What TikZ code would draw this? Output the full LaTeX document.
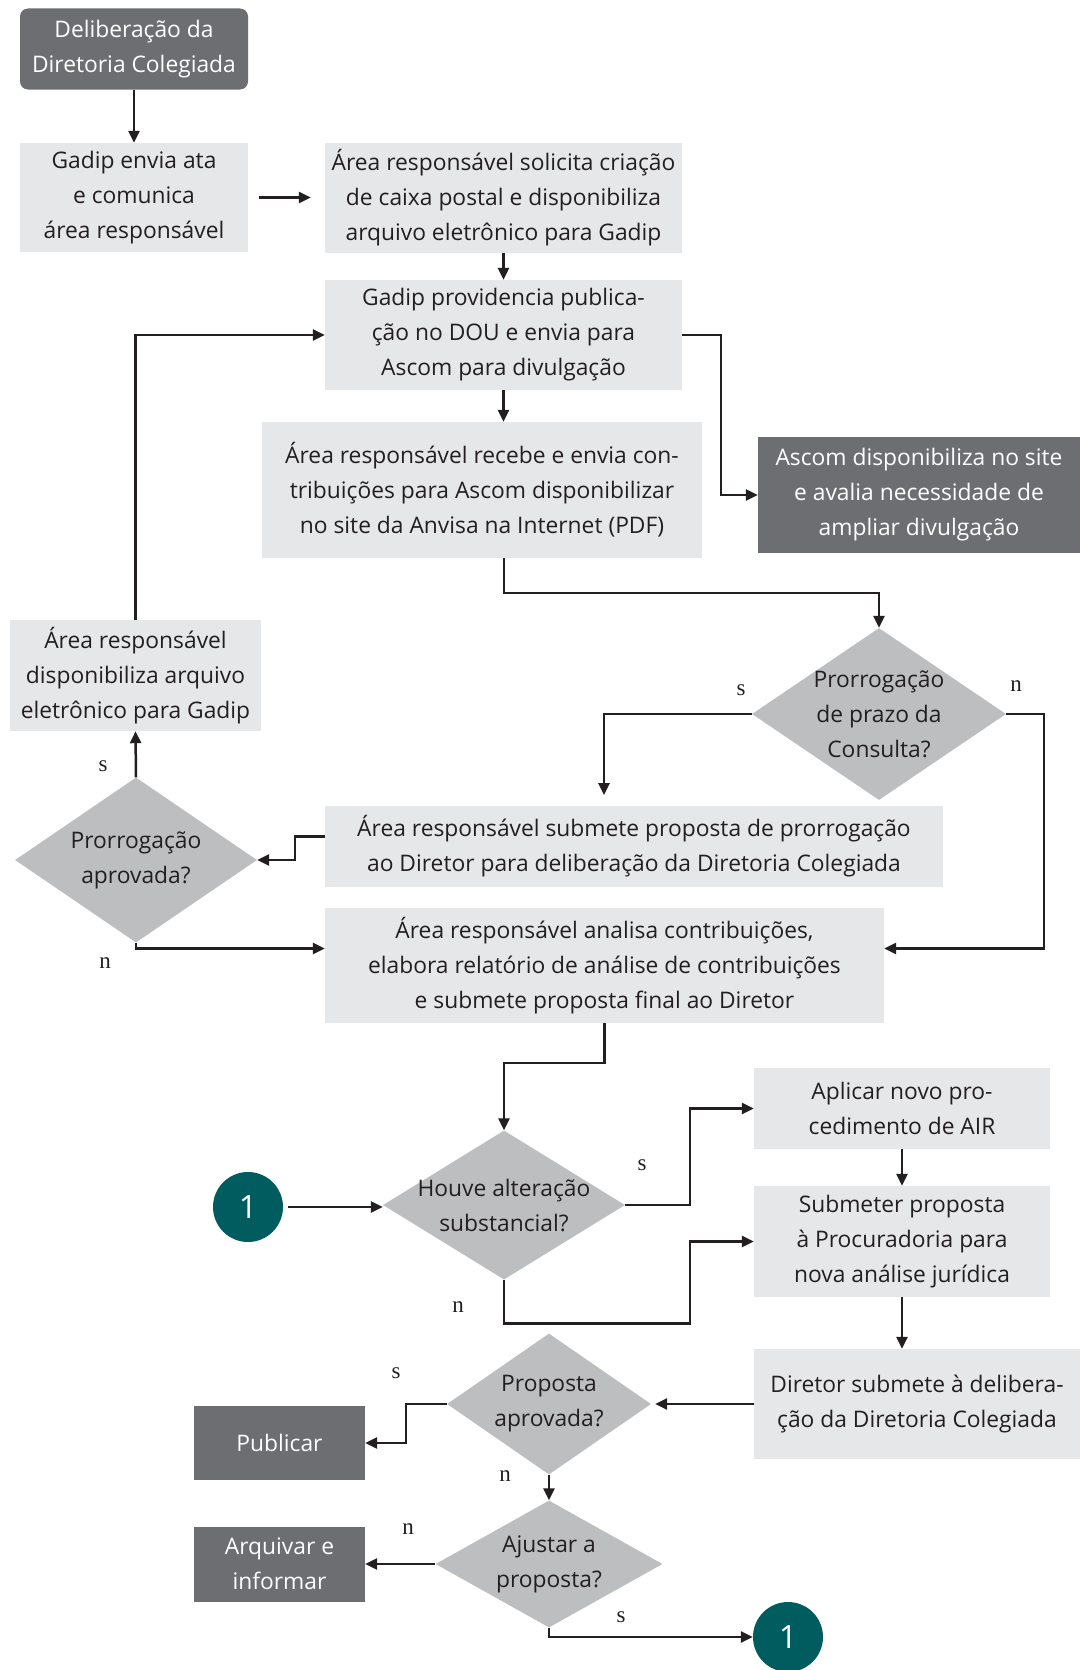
\documentclass[tikz,border=0pt]{standalone}
\usepackage{fontspec}
\setmainfont{Open Sans}
\newfontfamily\lettre{Liberation Serif}
\usetikzlibrary{shapes.geometric,arrows.meta,positioning}

\definecolor{cinzaescuro}{HTML}{6D6E71}
\definecolor{cinzaclaro}{HTML}{E6E7E8}
\definecolor{cinzamedio}{HTML}{BCBEC0}
\definecolor{verdeazul}{HTML}{005C5F}
\definecolor{texto}{HTML}{231F20}

\begin{document}
\begin{tikzpicture}[x=1pt, y=-1pt,
  font=\fontsize{22.8}{35}\selectfont,
  caixa/.style={rectangle, fill=cinzaclaro, text=texto, align=center, inner sep=0pt},
  escura/.style={rectangle, fill=cinzaescuro, text=white, align=center, inner sep=0pt},
  decisao/.style={diamond, fill=cinzamedio, text=texto, align=center, inner sep=-6pt},
  conector/.style={circle, fill=verdeazul, text=white, inner sep=0pt, minimum size=70pt,
    font=\fontsize{32}{32}\selectfont},
  seta/.style={line width=2.5pt, draw=texto, -{Triangle[length=12pt,width=11pt]}},
  sn/.style={font=\lettre\fontsize{23}{23}\selectfont, text=texto, inner sep=0pt},
]
\useasboundingbox (0,0) rectangle (1080,1670);

% Caixas
\node[escura, rounded corners=8pt, minimum width=228pt, minimum height=81pt] (delib) at (134,49)
  {Deliberação da\\Diretoria Colegiada};
\node[caixa, minimum width=228pt, minimum height=109pt] (gadip) at (134,197.5)
  {Gadip envia ata\\e comunica\\área responsável};
\node[caixa, minimum width=357pt, minimum height=110pt] (solicita) at (503.5,197.5)
  {Área responsável solicita criação\\de caixa postal e disponibiliza\\arquivo eletrônico para Gadip};
\node[caixa, minimum width=357pt, minimum height=110pt] (publica) at (503.5,335)
  {Gadip providencia publica-\\ção no DOU e envia para\\Ascom para divulgação};
\node[caixa, minimum width=440pt, minimum height=136pt] (recebe) at (482,490)
  {Área responsável recebe e envia con-\\tribuições para Ascom disponibilizar\\no site da Anvisa na Internet (PDF)};
\node[escura, minimum width=322pt, minimum height=116pt] (ascom) at (919,495)
  {Ascom disponibiliza no site\\e avalia necessidade de\\ampliar divulgação};
\node[caixa, minimum width=251pt, minimum height=111pt] (arquivo) at (135.5,675.5)
  {Área responsável\\disponibiliza arquivo\\eletrônico para Gadip};
\node[caixa, minimum width=618pt, minimum height=81pt] (submete) at (634,846.5)
  {Área responsável submete proposta de prorrogação\\ao Diretor para deliberação da Diretoria Colegiada};
\node[caixa, minimum width=559pt, minimum height=115pt] (analisa) at (604.5,965.5)
  {Área responsável analisa contribuições,\\elabora relatório de análise de contribuições\\e submete proposta final ao Diretor};
\node[caixa, minimum width=296pt, minimum height=81pt] (air) at (902,1108.5)
  {Aplicar novo pro-\\cedimento de AIR};
\node[caixa, minimum width=296pt, minimum height=111pt] (procuradoria) at (902,1241.5)
  {Submeter proposta\\à Procuradoria para\\nova análise jurídica};
\node[caixa, minimum width=326pt, minimum height=110pt] (diretor) at (917,1404)
  {Diretor submete à delibera-\\ção da Diretoria Colegiada};
\node[escura, minimum width=171pt, minimum height=74pt] (publicar) at (279.5,1443)
  {Publicar};
\node[escura, minimum width=171pt, minimum height=75pt] (arquivar) at (279.5,1564)
  {Arquivar e\\informar};

% Decisoes
\node[decisao, aspect=1.48, minimum width=254pt, minimum height=172pt] (prazo) at (879,714)
  {Prorrogação\\de prazo da\\Consulta?};
\node[decisao, aspect=1.47, minimum width=242pt, minimum height=165pt] (aprovada) at (136,860)
  {Prorrogação\\aprovada?};
\node[decisao, aspect=1.62, minimum width=242pt, minimum height=149pt] (houve) at (504,1205)
  {Houve alteração\\substancial?};
\node[decisao, aspect=1.45, minimum width=204pt, minimum height=141pt] (proposta) at (549,1404)
  {Proposta\\aprovada?};
\node[decisao, aspect=1.79, minimum width=227pt, minimum height=127pt] (ajustar) at (549,1564)
  {Ajustar a\\proposta?};

% Conectores de pagina
\node[conector] (um) at (248,1207) {1};
\node[conector] (dois) at (788,1637) {1};

% Setas
\draw[seta] (delib) -- (gadip);
\draw[seta, shorten <=11pt, shorten >=14pt] (gadip.east) -- (gadip.east -| solicita.west);
\draw[seta] (solicita) -- (publica);
\draw[seta] (publica.south) -- (publica.south |- recebe.north);
\draw[seta] (publica.east) -- ++(39,0) |- (ascom.west);
\draw[seta] ([xshift=22pt]recebe.south) -- ++(0,35) -| (prazo.north);
\coordinate (prorrog) at (604,795);
\draw[seta] (prazo.west) -| (prorrog);
\draw[seta] (prazo.east) -- ++(38,0) |- ([yshift=17pt]analisa.east);
\draw[seta] ([yshift=10pt]submete.west) -- ++(-30,0) |- (aprovada.east);
\draw[seta] (aprovada.north) -- (arquivo.south);
\draw[seta] (aprovada.south) |- ([yshift=17pt]analisa.west);
\draw[seta] (arquivo.north) |- (publica.west);
\draw[seta] (analisa.south) -- ++(0,40) -| (houve.north);
\draw[seta, shorten <=5pt] (um.east) -- (um.east -| houve.west);
\draw[seta] (houve.east) -- ++(65,0) |- (air.west);
\draw[seta] (houve.south) -- ++(0,44) -- ++(186,0) |- (procuradoria.west);
\draw[seta] (air) -- (procuradoria);
\draw[seta] (procuradoria.south) -- (procuradoria.south |- diretor.north);
\draw[seta, shorten >=4pt] (diretor) -- (proposta);
\draw[seta] (proposta.west) -- ++(-41,0) |- (publicar.east);
\draw[seta] (proposta.south) -- (ajustar.north);
\draw[seta] (ajustar) -- (arquivar);
\draw[seta] (ajustar.south) |- (dois.west);

% Rotulos s / n
\node[sn] (s1) at (741,690) {s};
\node[sn] (n1) at (1016,686) {n};
\node[sn] (s2) at (103,766) {s};
\node[sn] (n2) at (105,963) {n};
\node[sn] (s3) at (642,1165) {s};
\node[sn] (n3) at (458,1307) {n};
\node[sn] (s4) at (396,1373) {s};
\node[sn] (n4) at (505,1476) {n};
\node[sn] (n5) at (408,1529) {n};
\node[sn] (s5) at (621,1617) {s};

\end{tikzpicture}
\end{document}
